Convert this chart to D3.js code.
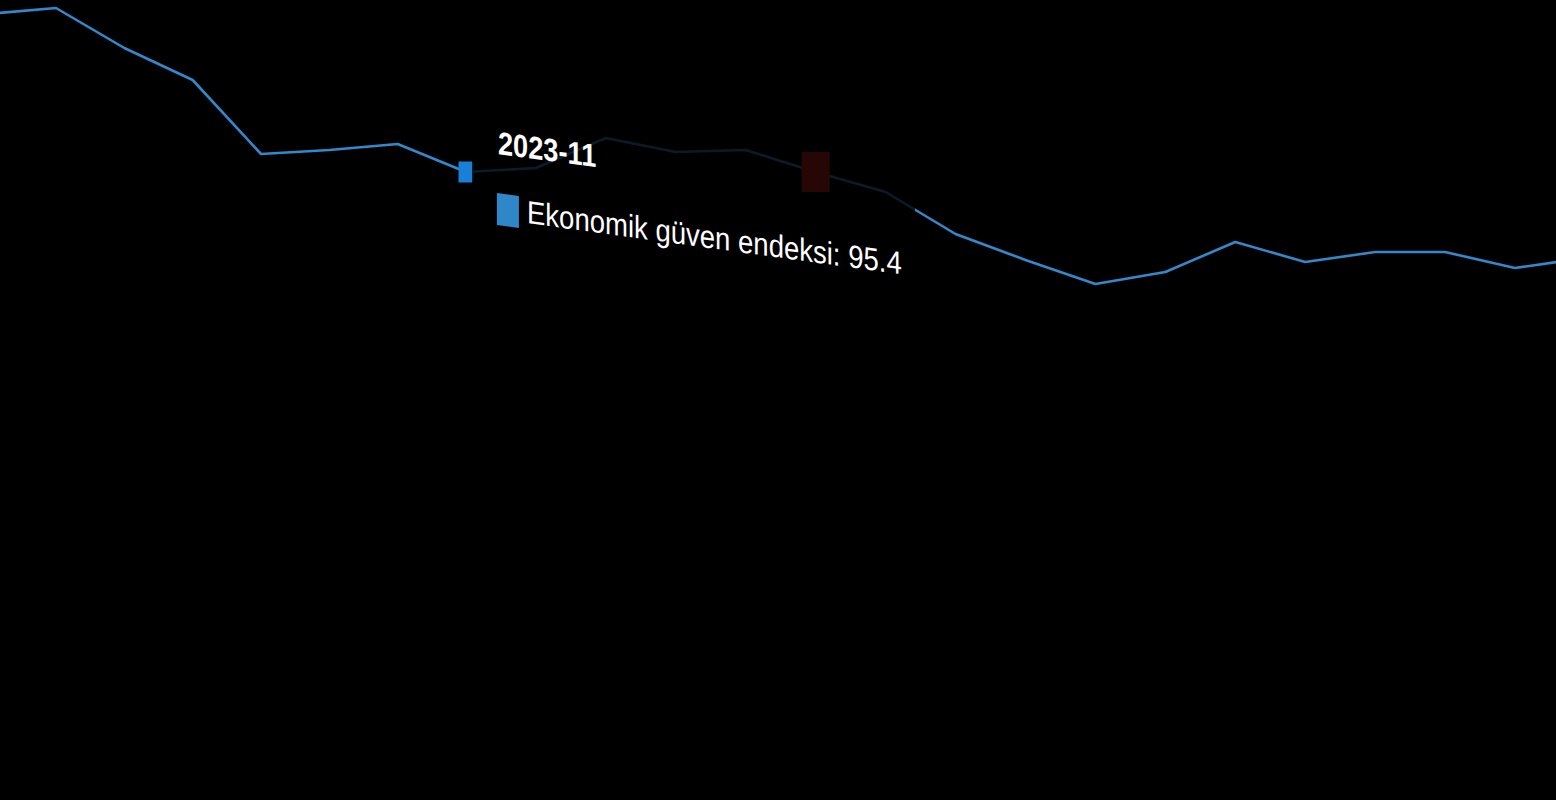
<!DOCTYPE html>
<html lang="tr">
<head>
  <meta charset="UTF-8">
  <title>Ekonomik güven endeksi</title>
  <script src="https://cdnjs.cloudflare.com/ajax/libs/d3/7.8.5/d3.min.js"></script>
  <style>
    html, body { margin: 0; padding: 0; background: #000; overflow: hidden; }
    svg { display: block; }
  </style>
</head>
<body>
    <div id="graph"></div>

    <script>

        // months on the x axis (the view is zoomed in, first and last fall outside)
        var months = ["2023-04", "2023-05", "2023-06", "2023-07", "2023-08", "2023-09",
                      "2023-10", "2023-11", "2023-12", "2024-01", "2024-02", "2024-03",
                      "2024-04", "2024-05", "2024-06", "2024-07", "2024-08", "2024-09",
                      "2024-10", "2024-11", "2024-12", "2025-01", "2025-02", "2025-03"]

        // Ekonomik güven endeksi
        var guven = [103.3, 103.6, 101.6, 100.0, 96.3, 96.5,
                     96.8, 95.4, 95.6, 97.1, 96.4, 96.5,
                     95.4, 94.4, 92.3, 91.0, 89.8, 90.4,
                     91.9, 90.9, 91.4, 91.4, 90.6, 91.1]

        var seriesName = "Ekonomik güven endeksi"
        var hovered = "2023-11"
        var redMark = "2024-04"

        var width = 1556, height = 800

        var svg = d3.select("#graph")
                .append("svg")
                .attr("width", width)
                .attr("height", height)

        svg.append("rect")
            .attr("width", width)
            .attr("height", height)
            .style("fill", "#000")

        // the view is seen at a slight angle, left months sit a bit closer
        var xi = d3.scaleLinear()
                .domain([1, 7, 22])
                .range([56, 466, 1515])
        var x = function(m) { return xi(months.indexOf(m)) }

        var y = d3.scaleLinear()
                .domain([64, 104])
                .range([height, 0])

        var data = months.map(function(m, i) { return {month: m, value: guven[i]} })

        var line = d3.line()
                .x(function(d) { return x(d.month) })
                .y(function(d) { return y(d.value) })

        svg.append("path")
            .datum(data)
            .attr("d", line)
            .style("fill", "none")
            .style("stroke", "#3388cc")
            .style("stroke-width", 2.6)
            .style("stroke-linejoin", "round")

        // red marker of the other point
        var red = data.filter(function(d) { return d.month === redMark })[0]
        svg.append("rect")
            .attr("x", x(red.month) - 14)
            .attr("y", y(red.value) - 20)
            .attr("width", 28)
            .attr("height", 40)
            .style("fill", "#c41e1e")

        // hovered point
        var hov = data.filter(function(d) { return d.month === hovered })[0]
        svg.append("rect")
            .attr("x", x(hov.month) - 7.5)
            .attr("y", y(hov.value) - 10.5)
            .attr("width", 15)
            .attr("height", 21)
            .style("fill", "#1a7fd6")

        // tooltip
        var tipX = x(hov.month) + 6
        var tipY = y(hov.value) - 66

        svg.append("rect")
            .attr("x", tipX)
            .attr("y", tipY)
            .attr("width", 443)
            .attr("height", 195)
            .style("fill", "rgba(0,0,0,0.8)")

        svg.append("text")
            .attr("transform", "translate(" + (tipX + 26) + "," + (tipY + 48) + ") skewY(7.6) scale(0.85,1)")
            .style("font-family", "'Liberation Sans', Arial, sans-serif")
            .style("font-weight", "bold")
            .style("font-size", "32px")
            .style("fill", "#fff")
            .text(hov.month)

        var body = svg.append("g")
            .attr("transform", "translate(" + (tipX + 55) + "," + (tipY + 117) + ") skewY(7.8) scale(0.86,1)")

        body.append("rect")
            .attr("x", -35)
            .attr("y", -26)
            .attr("width", 25.6)
            .attr("height", 32)
            .style("fill", "#2f86c8")

        body.append("text")
            .attr("x", 0)
            .attr("y", 0)
            .style("font-family", "'Liberation Sans', Arial, sans-serif")
            .style("font-size", "32px")
            .style("fill", "#fff")
            .text(seriesName + ": " + hov.value)

    </script>

</body>
</html>
